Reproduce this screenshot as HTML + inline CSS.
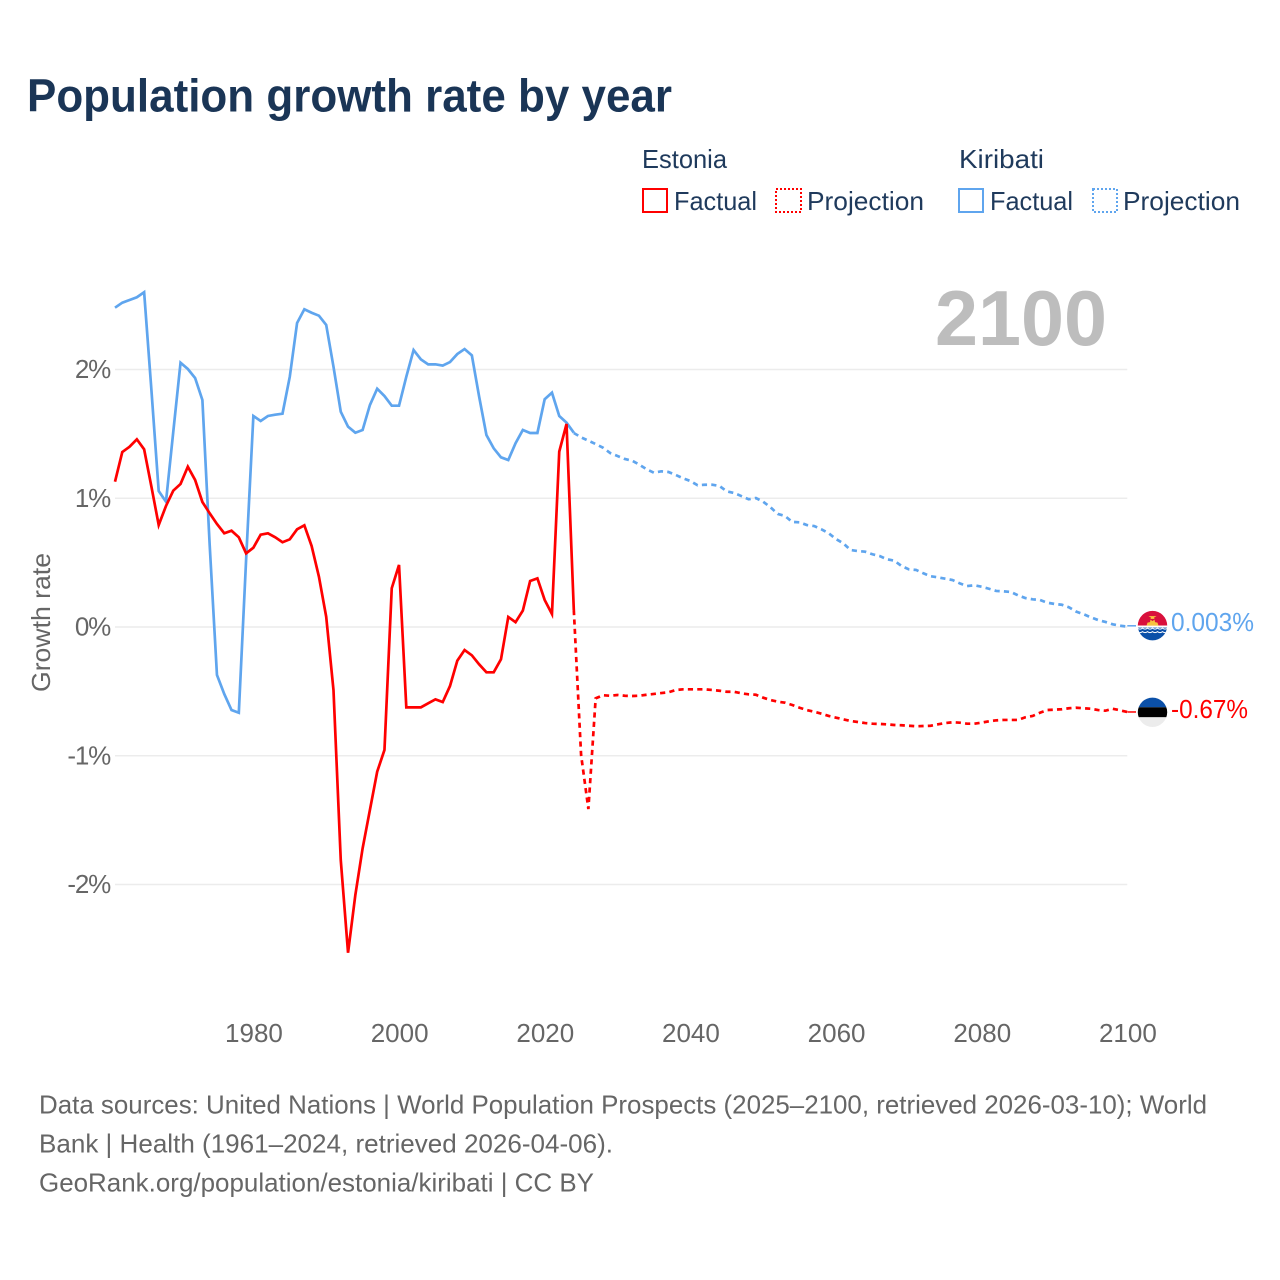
<!DOCTYPE html>
<html lang="en">
<head>
<meta charset="utf-8">
<title>Population growth rate by year</title>
<style>
html,body{margin:0;padding:0;background:#fff;}
svg{display:block;}
text{font-family:"Liberation Sans",sans-serif;}
</style>
</head>
<body>
<svg id="chart" width="1280" height="1280" viewBox="0 0 1280 1280" xmlns="http://www.w3.org/2000/svg">
  <rect x="0" y="0" width="1280" height="1280" fill="#ffffff"/>
  <text x="27" y="111.5" font-size="46" font-weight="700" fill="#1a3556" textLength="645" lengthAdjust="spacingAndGlyphs">Population growth rate by year</text>

  <g font-size="26" fill="#1f3a5c">
    <text x="642" y="168" textLength="85" lengthAdjust="spacingAndGlyphs">Estonia</text>
    <text x="959" y="168" textLength="85" lengthAdjust="spacingAndGlyphs">Kiribati</text>
    <g>
      <rect x="643" y="189" width="24" height="23" fill="none" stroke="#ff0000" stroke-width="2"/>
      <text x="674" y="210" textLength="83" lengthAdjust="spacingAndGlyphs">Factual</text>
    </g>
    <g>
      <rect x="776" y="189" width="25" height="23" fill="none" stroke="#ff0000" stroke-width="2" stroke-dasharray="2 2"/>
      <text x="807" y="210" textLength="117" lengthAdjust="spacingAndGlyphs">Projection</text>
    </g>
    <g>
      <rect x="959" y="189" width="24" height="23" fill="none" stroke="#5fa5ee" stroke-width="2"/>
      <text x="990" y="210" textLength="83" lengthAdjust="spacingAndGlyphs">Factual</text>
    </g>
    <g>
      <rect x="1093" y="189" width="24" height="23" fill="none" stroke="#5fa5ee" stroke-width="2" stroke-dasharray="2 2"/>
      <text x="1123" y="210" textLength="117" lengthAdjust="spacingAndGlyphs">Projection</text>
    </g>
  </g>

  <g id="grid"></g>
  <g id="y-ticks"></g>
  <g id="x-ticks"></g>

  <text x="1107" y="345" text-anchor="end" font-size="78" font-weight="700" fill="#bdbdbd" textLength="172" lengthAdjust="spacingAndGlyphs">2100</text>
  <text transform="translate(50,692) rotate(-90)" font-size="26" fill="#666666" textLength="139" lengthAdjust="spacingAndGlyphs">Growth rate</text>

  <g id="series"></g>

  <defs>
    <clipPath id="flag-clip"><circle cx="0" cy="0" r="14.7"/></clipPath>
  </defs>

  <g id="flag-kiribati">
    <g clip-path="url(#flag-clip)">
      <rect x="-16" y="-16" width="32" height="16" fill="#d9103c"/>
      <rect x="-16" y="0" width="32" height="16" fill="#ffffff"/>
      <rect x="-16" y="2" width="32" height="14" fill="#0b50a8"/>
      <path d="M-6 0 L-5 -3 L-2.5 -3.5 L-2 -6 L0 -4.5 L2 -6 L2.5 -3.5 L5 -3 L6 0 Z" fill="#f7c23e"/>
      <path d="M-4 -9.5 L4 -9.5 L1.5 -8 L2 -6.8 L-2 -6.8 L-1.5 -8 Z" fill="#f7c23e"/>
      <path d="M-15 2.5 q2.5 2 5 0 q2.5 2 5 0 q2.5 2 5 0 q2.5 2 5 0 q2.5 2 5 0 q2.5 2 5 0" fill="none" stroke="#ffffff" stroke-width="1"/>
      <path d="M-15 6 q2.5 2 5 0 q2.5 2 5 0 q2.5 2 5 0 q2.5 2 5 0 q2.5 2 5 0 q2.5 2 5 0" fill="none" stroke="#ffffff" stroke-width="1"/>
    </g>
  </g>
  <g id="flag-estonia">
    <g clip-path="url(#flag-clip)">
      <rect x="-16" y="-16" width="32" height="11" fill="#0b50a8"/>
      <rect x="-16" y="-5" width="32" height="10" fill="#000000"/>
      <rect x="-16" y="5" width="32" height="11" fill="#ececec"/>
    </g>
  </g>

  <text id="label-kiribati" x="1171" font-size="26" fill="#5fa5ee" textLength="83" lengthAdjust="spacingAndGlyphs">0.003%</text>
  <text id="label-estonia" x="1171" font-size="26" fill="#ff0000" textLength="77" lengthAdjust="spacingAndGlyphs">-0.67%</text>

  <g font-size="26" fill="#666666">
    <text x="39" y="1113.5" textLength="1168" lengthAdjust="spacingAndGlyphs">Data sources: United Nations | World Population Prospects (2025–2100, retrieved 2026-03-10); World</text>
    <text x="39" y="1152.5" textLength="574" lengthAdjust="spacingAndGlyphs">Bank | Health (1961–2024, retrieved 2026-04-06).</text>
    <text x="39" y="1191.5" textLength="555" lengthAdjust="spacingAndGlyphs">GeoRank.org/population/estonia/kiribati | CC BY</text>
  </g>
</svg>

<script>
const yearTicks = [1980, 2000, 2020, 2040, 2060, 2080, 2100];
const growthTicks = [2, 1, 0, -1, -2];
const factualStartYear = 1961;
const projectionStartYear = 2024;

const estoniaFactual = [
  1.129,1.359,1.400,1.458,1.380,1.090,0.792,0.940,1.059,1.111,
  1.245,1.142,0.971,0.883,0.800,0.728,0.748,0.697,0.572,0.616,
  0.717,0.728,0.697,0.658,0.681,0.759,0.790,0.629,0.391,0.080,
  -0.489,-1.810,-2.530,-2.082,-1.719,-1.421,-1.124,-0.955,0.301,0.482,
  -0.624,-0.624,-0.624,-0.593,-0.562,-0.583,-0.458,-0.262,-0.179,-0.220,
  -0.290,-0.352,-0.352,-0.251,0.078,0.037,0.127,0.357,0.378,0.210,
  0.101,1.362,1.577,0.132
];
const estoniaProjection = [
  0.132,-0.994,-1.414,-0.554,-0.530,-0.534,-0.528,-0.534,-0.536,-0.534,
  -0.526,-0.520,-0.513,-0.507,-0.489,-0.484,-0.484,-0.484,-0.484,-0.489,
  -0.495,-0.503,-0.503,-0.515,-0.523,-0.526,-0.549,-0.567,-0.580,-0.588,
  -0.606,-0.627,-0.645,-0.658,-0.673,-0.691,-0.704,-0.717,-0.730,-0.738,
  -0.746,-0.751,-0.753,-0.756,-0.761,-0.763,-0.767,-0.771,-0.769,-0.767,
  -0.756,-0.746,-0.740,-0.743,-0.751,-0.751,-0.743,-0.732,-0.725,-0.722,
  -0.722,-0.722,-0.701,-0.691,-0.666,-0.645,-0.642,-0.639,-0.631,-0.627,
  -0.631,-0.635,-0.645,-0.650,-0.635,-0.647,-0.660
];
const kiribatiFactual = [
  2.480,2.519,2.540,2.561,2.600,1.841,1.056,0.973,1.515,2.053,
  2.004,1.934,1.763,0.637,-0.373,-0.520,-0.645,-0.666,0.520,1.639,
  1.600,1.639,1.649,1.657,1.944,2.361,2.468,2.441,2.418,2.346,
  2.022,1.672,1.556,1.509,1.530,1.724,1.851,1.794,1.719,1.719,
  1.944,2.151,2.079,2.040,2.040,2.030,2.058,2.120,2.159,2.110,
  1.789,1.491,1.388,1.318,1.297,1.427,1.530,1.507,1.507,1.769,
  1.820,1.639,1.587,1.509
];
const kiribatiProjection = [
  1.507,1.473,1.447,1.421,1.393,1.351,1.328,1.305,1.292,1.261,
  1.225,1.198,1.209,1.204,1.181,1.155,1.134,1.101,1.105,1.105,
  1.095,1.054,1.041,1.017,0.992,1.002,0.973,0.930,0.878,0.862,
  0.816,0.813,0.792,0.784,0.759,0.728,0.683,0.650,0.598,0.590,
  0.585,0.565,0.551,0.526,0.515,0.474,0.448,0.443,0.417,0.394,
  0.386,0.375,0.365,0.339,0.318,0.324,0.313,0.297,0.280,0.277,
  0.272,0.246,0.225,0.215,0.210,0.189,0.179,0.173,0.153,0.119,
  0.099,0.075,0.054,0.039,0.021,0.010,0.003
];

const SVG_NS = 'http://www.w3.org/2000/svg';
const RED = '#ff0000';
const BLUE = '#5fa5ee';
const plotLeft = 115;
const plotRight = 1127.3;

function xScale(year) {
  return plotLeft + (year - 1961) * (plotRight - plotLeft) / (2100 - 1961);
}
function yScale(value) {
  return 627 - value * 128.75;
}
function make(tag, parentId) {
  const el = document.createElementNS(SVG_NS, tag);
  document.getElementById(parentId).appendChild(el);
  return el;
}
function linePath(values, startYear) {
  return values.map(function (v, i) {
    return (i === 0 ? 'M' : 'L') + xScale(startYear + i).toFixed(2) + ' ' + yScale(v).toFixed(2);
  }).join(' ');
}

growthTicks.forEach(function (tick) {
  const line = make('line', 'grid');
  
  
  line.setAttribute('x1', plotLeft);
  line.setAttribute('x2', plotRight);
  line.setAttribute('y1', yScale(tick));
  line.setAttribute('y2', yScale(tick));
  line.setAttribute('stroke', '#ececec');
  line.setAttribute('stroke-width', '1.5');

  const label = make('text', 'y-ticks');
  
  
  label.setAttribute('x', 110);
  label.setAttribute('y', yScale(tick) + 8.5);
  label.setAttribute('text-anchor', 'end');
  label.setAttribute('font-size', '26');
  label.setAttribute('fill', '#666666');
  label.setAttribute('letter-spacing', '-1.2');
  label.textContent = tick + '%';
});

yearTicks.forEach(function (year) {
  const label = make('text', 'x-ticks');
  
  
  label.setAttribute('x', xScale(year) + 0.6);
  label.setAttribute('y', 1042);
  label.setAttribute('text-anchor', 'middle');
  label.setAttribute('font-size', '26');
  label.setAttribute('fill', '#666666');
  label.textContent = String(year);
});

const kiribatiFactualLine = make('path', 'series');


kiribatiFactualLine.setAttribute('d', linePath(kiribatiFactual, factualStartYear));
kiribatiFactualLine.setAttribute('fill', 'none');
kiribatiFactualLine.setAttribute('stroke', BLUE);
kiribatiFactualLine.setAttribute('stroke-width', '2.7');

const kiribatiProjectionLine = make('path', 'series');


kiribatiProjectionLine.setAttribute('d', linePath(kiribatiProjection, projectionStartYear));
kiribatiProjectionLine.setAttribute('fill', 'none');
kiribatiProjectionLine.setAttribute('stroke', BLUE);
kiribatiProjectionLine.setAttribute('stroke-width', '2.7');
kiribatiProjectionLine.setAttribute('stroke-dasharray', '5.2 4.2');

const estoniaFactualLine = make('path', 'series');


estoniaFactualLine.setAttribute('d', linePath(estoniaFactual, factualStartYear));
estoniaFactualLine.setAttribute('fill', 'none');
estoniaFactualLine.setAttribute('stroke', RED);
estoniaFactualLine.setAttribute('stroke-width', '2.7');

const estoniaProjectionLine = make('path', 'series');


estoniaProjectionLine.setAttribute('d', linePath(estoniaProjection, projectionStartYear));
estoniaProjectionLine.setAttribute('fill', 'none');
estoniaProjectionLine.setAttribute('stroke', RED);
estoniaProjectionLine.setAttribute('stroke-width', '2.7');
estoniaProjectionLine.setAttribute('stroke-dasharray', '5.2 4.2');

const lastKiribati = kiribatiProjection[kiribatiProjection.length - 1];
const lastEstonia = estoniaProjection[estoniaProjection.length - 1];

const kiribatiConnector = make('line', 'series');


kiribatiConnector.setAttribute('x1', plotRight);
kiribatiConnector.setAttribute('x2', 1136);
kiribatiConnector.setAttribute('y1', yScale(lastKiribati) - 0.8);
kiribatiConnector.setAttribute('y2', yScale(lastKiribati) - 0.8);
kiribatiConnector.setAttribute('stroke', BLUE);
kiribatiConnector.setAttribute('stroke-width', '1.5');

const estoniaConnector = make('line', 'series');


estoniaConnector.setAttribute('x1', plotRight);
estoniaConnector.setAttribute('x2', 1136);
estoniaConnector.setAttribute('y1', yScale(lastEstonia));
estoniaConnector.setAttribute('y2', yScale(lastEstonia));
estoniaConnector.setAttribute('stroke', RED);
estoniaConnector.setAttribute('stroke-width', '1.5');

document.getElementById('flag-kiribati').setAttribute('transform', 'translate(1152.5,' + (yScale(lastKiribati) - 1) + ')');
document.getElementById('flag-estonia').setAttribute('transform', 'translate(1152.5,' + (yScale(lastEstonia) + 0.3) + ')');
document.getElementById('label-kiribati').setAttribute('y', yScale(lastKiribati) + 4.5);
document.getElementById('label-estonia').setAttribute('y', yScale(lastEstonia) + 6);
</script>
</body>
</html>
